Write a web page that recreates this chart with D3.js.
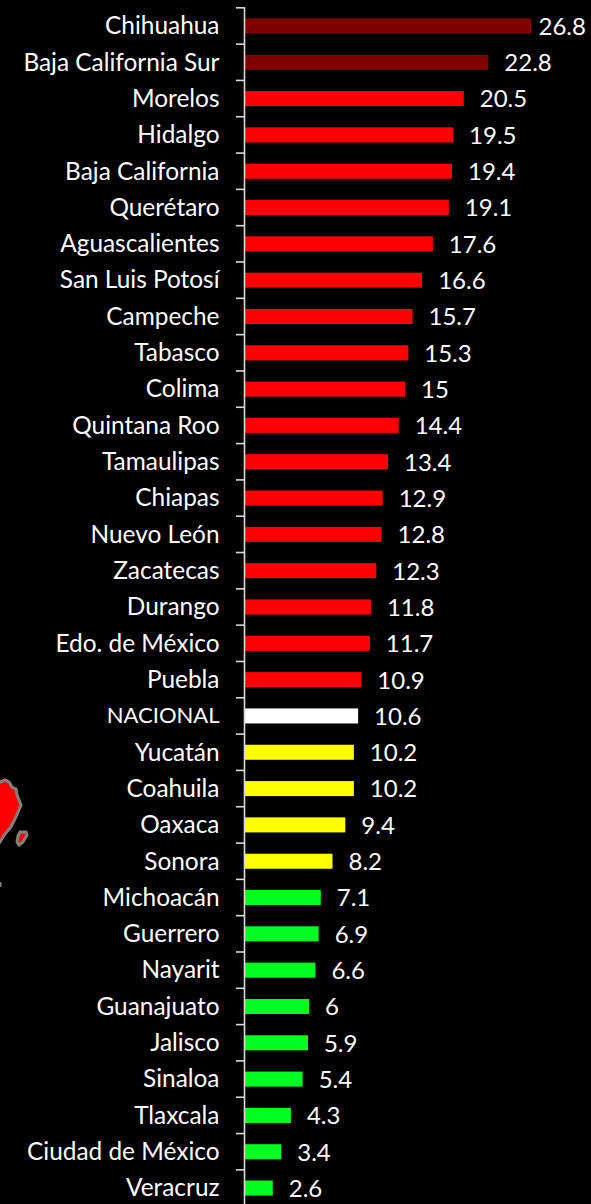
<!DOCTYPE html>
<html><head><meta charset="utf-8">
<script src="https://cdn.jsdelivr.net/npm/d3@7"></script>
<style>html,body{margin:0;padding:0;background:#000}svg{display:block}text{font-family:Lato,"Open Sans",sans-serif;fill:#fff}</style>
</head><body><svg id="c" width="591" height="1204"></svg>
<script>
const states=["Chihuahua","Baja California Sur","Morelos","Hidalgo","Baja California","Querétaro","Aguascalientes","San Luis Potosí","Campeche","Tabasco","Colima","Quintana Roo","Tamaulipas","Chiapas","Nuevo León","Zacatecas","Durango","Edo. de México","Puebla","NACIONAL","Yucatán","Coahuila","Oaxaca","Sonora","Michoacán","Guerrero","Nayarit","Guanajuato","Jalisco","Sinaloa","Tlaxcala","Ciudad de México","Veracruz"];
const values=[26.8,22.8,20.5,19.5,19.4,19.1,17.6,16.6,15.7,15.3,15,14.4,13.4,12.9,12.8,12.3,11.8,11.7,10.9,10.6,10.2,10.2,9.4,8.2,7.1,6.9,6.6,6,5.9,5.4,4.3,3.4,2.6];
const levels=["dark","dark",...Array(17).fill("red"),"nat",...Array(4).fill("yellow"),...Array(9).fill("green")];
const levelDomain=["dark","red","nat","yellow","green"];
const levelColors=["#7f0000","#ff0000","#ffffff","#ffff00","#00ff21"];
const mapMain=[[-6,850],[0,842],[5,834],[11,827],[16,817],[21,805],[17,795],[16,789],[12,787],[9,782],[5,780],[0,782],[-6,784]];
const mapIsle=[[20,832],[26,832],[27,835],[23,842],[19,845],[17,842],[18,836]];
const mapStray=[[0,882],[0,887]];

const svg=d3.select("#c");
const color=d3.scaleOrdinal(levelDomain,levelColors);
const x=d3.scaleLinear([0,26.8],[245,531]);
const y=d3.scaleBand(states,[7.8,1206.2]).paddingInner(0.586).paddingOuter(0.293);

const ln=d3.line().curve(d3.curveLinearClosed);
svg.append("g").selectAll("path").data([mapMain,mapIsle]).join("path")
  .attr("d",ln).attr("fill","#ff0000").attr("stroke","#808080").attr("stroke-width",3);
svg.append("path").attr("d",d3.line()(mapStray)).attr("stroke","#808080").attr("stroke-width",3);

const g=svg.append("g");
g.selectAll("rect").data(states).join("rect")
  .attr("x",x(0)).attr("y",(d)=>y(d)).attr("height",y.bandwidth())
  .attr("width",(d,i)=>x(values[i])-x(0)).attr("fill",(d,i)=>color(levels[i]));

const step=y.step();
const ticks=d3.range(states.length+1).map(i=>y(states[0])-(step-y.bandwidth())/2+i*step);
const ax=svg.append("g").attr("stroke","#d9d9d9").attr("stroke-width",1.6).attr("fill","none");
ax.append("line").attr("x1",244.5).attr("x2",244.5).attr("y1",ticks[0]-.8).attr("y2",1204);
ax.selectAll("line.t").data(ticks).join("line").attr("class","t")
  .attr("x1",236).attr("x2",245).attr("y1",d=>d).attr("y2",d=>d);

svg.append("g").selectAll("text").data(states).join("text")
  .attr("x",219.5).attr("y",d=>y(d)+y.bandwidth()/2).attr("dy","0.34em")
  .attr("text-anchor","end").attr("font-size",d=>d==="NACIONAL"?22:24.4).text(d=>d);
svg.append("g").selectAll("text").data(values).join("text")
  .attr("x",d=>Math.min(x(d)+16,538.5)).attr("y",(d,i)=>y(states[i])+y.bandwidth()/2).attr("dy","0.37em")
  .attr("font-size",24).text(d=>d);
</script></body></html>
